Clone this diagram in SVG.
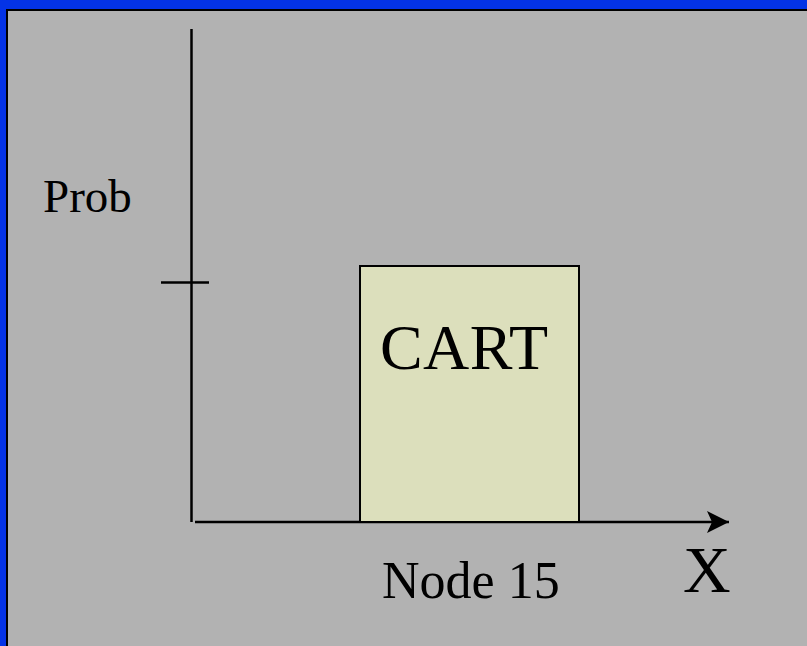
<svg xmlns="http://www.w3.org/2000/svg" width="807" height="646" viewBox="0 0 807 646">
<style>
.t{font-family:"Liberation Serif","Times New Roman",serif;fill:#000}
.ax{stroke:#000;stroke-width:2.5;fill:none}
</style>
<defs>
<marker id="arr" markerUnits="userSpaceOnUse" markerWidth="24" markerHeight="24" refX="22" refY="11" orient="auto" viewBox="0 0 24 22">
<path d="M0,0 L22,11 L0,22 L5,11 Z" fill="#000"/>
</marker>
</defs>
<rect x="0" y="0" width="807" height="646" fill="#0433e6"/>
<rect x="7" y="10" width="810" height="646" fill="#b2b2b2" stroke="#000" stroke-width="2"/>
<g id="connectors">
<line class="ax" x1="191.5" y1="29" x2="191.5" y2="522"/>
<line class="ax" x1="161" y1="282.5" x2="209" y2="282.5"/>
<line class="ax" x1="195" y1="522" x2="729" y2="522" marker-end="url(#arr)"/>
</g>
<g id="cart">
<rect x="360" y="266" width="219" height="256" fill="#dcdfbc" stroke="#000" stroke-width="2"/>
<text class="t" x="380" y="369" font-size="64" textLength="168">CART</text>
</g>
<g id="labels">
<text class="t" x="43" y="212" font-size="47">Prob</text>
<text class="t" x="382" y="598" font-size="52">Node 15</text>
<text class="t" x="683" y="592" font-size="66">X</text>
</g>
</svg>
